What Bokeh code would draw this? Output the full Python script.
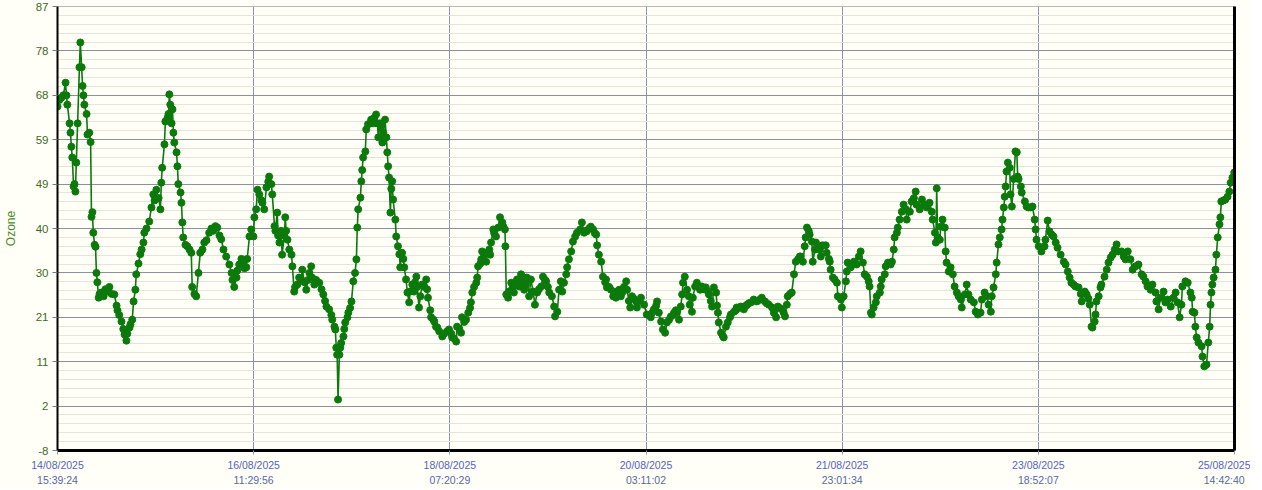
from bokeh.plotting import figure
from bokeh.models import Range1d, FixedTicker, CustomJSTickFormatter, LinearAxis
from bokeh.embed import file_html
from bokeh.resources import INLINE
import numpy as np

# ---------------- data ----------------
# time axis: hours since 14/08/2025 15:39:24 ; last tick 25/08/2025 14:42:40
x_labels = ["14/08/2025\n15:39:24", "16/08/2025\n11:29:56", "18/08/2025\n07:20:29",
            "20/08/2025\n03:11:02", "21/08/2025\n23:01:34", "23/08/2025\n18:52:07",
            "25/08/2025\n14:42:40"]
span_hours = 263.0544
y_labels = ["-8", "2", "11", "21", "30", "40", "49", "59", "68", "78", "87"]
y_min, y_max = -8, 87
y_label_text = "Ozone"

hours = [
    0.0, 0.4, 0.9, 1.3, 1.8, 2.0, 2.2, 2.7, 2.9, 3.1,
    3.3, 3.6, 3.8, 4.0, 4.2, 4.5, 4.9, 5.1, 5.4, 5.6,
    5.8, 6.0, 6.5, 6.7, 7.1, 7.4, 7.6, 7.8, 8.0, 8.3,
    8.5, 8.7, 8.9, 9.2, 9.4, 9.8, 10.3, 10.7, 11.2, 11.6,
    12.1, 12.7, 13.2, 13.4, 13.8, 14.3, 14.7, 15.0, 15.4, 15.6,
    16.1, 16.3, 16.7, 17.0, 17.4, 17.6, 18.1, 18.5, 18.8, 19.2,
    19.4, 19.9, 20.5, 21.0, 21.4, 21.7, 22.1, 22.6, 23.0, 23.2,
    23.4, 23.9, 24.1, 24.6, 24.8, 25.0, 25.2, 25.5, 25.7, 25.9,
    26.1, 26.6, 26.8, 27.0, 27.5, 27.7, 27.9, 28.1, 28.6, 29.0,
    29.5, 29.9, 30.1, 30.6, 31.0, 31.5, 31.9, 32.4, 32.8, 33.3,
    33.9, 34.4, 34.8, 35.3, 35.7, 36.2, 36.6, 37.1, 37.7, 38.4,
    38.9, 39.1, 39.5, 40.0, 40.2, 40.6, 41.1, 41.3, 41.8, 42.2,
    42.4, 42.9, 43.3, 43.8,
    44.0, 44.4, 44.7, 45.1, 45.6, 45.8, 46.2, 46.7, 47.1, 47.3,
    47.8, 48.0, 48.5, 48.7, 49.1, 49.3, 49.6, 50.0, 50.2, 50.7,
    50.9, 51.1, 51.4, 51.8, 52.3, 52.5, 52.9, 53.1, 53.6, 54.0,
    54.5, 54.7, 55.2, 55.6, 56.0, 56.3, 56.7, 56.9, 57.4, 57.8,
    58.5, 59.0, 59.4, 59.8, 60.1, 60.7, 61.2, 61.4, 61.9, 62.1,
    62.3, 62.5, 62.7, 63.0, 63.2, 63.4, 63.9, 64.1, 64.3, 64.8,
    65.0, 65.4, 65.7, 66.1, 66.5, 66.8, 67.0, 67.2, 67.7, 67.9,
    68.1, 68.3, 68.8, 69.0, 69.4, 69.9, 70.1, 70.6, 70.8, 71.2,
    71.5, 71.7, 72.1, 72.3, 72.6, 72.8, 73.2, 73.5, 73.7, 73.9,
    74.1, 74.4, 74.6, 74.8, 75.0, 75.5, 75.7, 76.1, 76.4, 76.6,
    76.8, 77.0, 77.3, 77.5, 77.9, 78.2, 78.6, 78.8, 79.3, 79.7,
    79.9, 80.2, 80.4, 80.8, 81.1, 81.5, 82.0, 82.4, 82.6, 82.8,
    83.3, 83.5, 84.0, 84.2, 84.6, 84.9, 85.3, 86.0, 86.4, 87.1,
    87.5, 88.0, 88.2, 88.6, 89.1, 89.3, 89.8, 90.2, 90.4, 90.9,
    91.3, 91.8, 92.2, 92.4, 92.7, 93.1, 93.6, 93.8, 94.0, 94.5,
    94.7, 94.9, 95.3, 95.8, 96.0, 96.5, 96.7, 96.9, 97.4, 97.6,
    98.0, 98.5, 98.9, 99.4, 99.6, 100.0, 100.1, 100.3, 100.7, 100.9,
    101.4, 101.6, 102.0, 102.5, 102.7, 103.2, 103.6, 104.1, 104.3, 104.7,
    104.9, 105.4, 105.8, 106.3, 106.7, 107.2, 107.6, 108.1, 108.5, 109.0,
    109.2, 109.6, 109.9, 110.5, 111.0, 111.2, 111.7, 112.1, 112.5, 112.8,
    113.2, 113.7, 113.9, 114.3, 114.8, 115.2, 115.7, 116.1, 116.8, 117.2,
    117.7, 118.1, 118.3, 118.8, 119.2, 119.7, 120.1, 120.4, 120.6, 121.0,
    121.5, 121.9, 122.4, 122.6, 122.8, 123.3, 123.7, 124.2, 124.4, 124.8,
    125.0, 125.5, 125.9, 126.2, 126.6, 127.1, 127.3, 127.7, 128.0, 128.4,
    128.8, 129.3, 129.5, 130.0, 130.4, 131.1, 131.7,
    132.2, 132.6, 132.9, 133.3, 133.8, 134.0, 134.4, 134.9, 135.3, 135.8,
    136.2, 136.7, 137.1, 137.6, 137.8, 138.2, 138.4, 138.9, 139.3, 139.6,
    139.8, 140.2, 140.7, 141.1, 141.3, 141.8, 142.0, 142.5, 142.9, 143.4,
    143.6, 144.0, 144.5, 144.9, 145.4, 145.6, 146.0, 146.3, 146.7, 147.2,
    147.4, 147.6, 147.8, 148.3, 148.7, 148.9, 149.4, 149.8, 150.3, 150.5,
    151.2, 151.6, 151.8, 152.3, 152.7, 153.4, 153.9, 154.1, 154.5, 155.0,
    155.6, 156.3, 156.8, 157.4, 158.1, 158.5, 159.0, 159.7, 160.1, 160.6,
    161.0, 161.4, 161.9, 162.3, 162.6, 163.0, 163.2, 163.7, 164.1, 164.6,
    165.0, 165.5, 165.9, 166.1, 166.6, 167.0, 167.2, 167.5, 167.9, 168.1,
    168.6, 168.8, 169.3, 169.5, 169.9, 170.4, 170.6, 171.0, 171.7, 171.9,
    172.4, 172.6, 172.8, 173.3, 173.7, 174.2, 174.4, 175.1, 175.3, 175.7,
    176.2, 176.4, 176.6, 177.3, 178.0, 178.6, 179.1, 179.5, 180.0, 180.4,
    180.9, 181.3, 181.5, 181.8, 182.0, 182.4, 182.9, 183.1, 183.8, 184.0,
    184.2, 184.9, 185.1, 185.6, 186.2, 186.5, 186.9, 187.1, 187.6, 187.8,
    188.2, 188.7, 189.1, 189.6, 189.8, 190.5, 190.9, 191.4, 191.8, 192.0,
    192.7, 193.2, 193.8, 194.3, 194.9, 195.4, 195.6, 196.1, 196.3, 196.5,
    196.7, 197.2, 197.4, 197.8, 198.3, 198.5, 198.7, 199.2, 199.6, 200.1,
    200.5, 201.0, 201.4, 201.9, 202.1, 202.8, 203.2, 203.6, 204.1, 204.8,
    205.2, 205.7, 206.3, 206.6, 207.2, 207.7, 208.1, 208.6, 208.8, 209.2,
    209.7, 209.9, 210.3, 210.6, 211.0, 211.2, 211.5, 211.7, 211.9, 212.1,
    212.4, 212.8, 213.0, 213.3, 213.7, 214.1, 214.4, 214.6, 214.8, 215.3,
    215.5, 216.2, 216.6, 217.0, 217.5, 217.9, 218.4, 218.6, 218.8,
    219.3, 219.9, 220.6, 220.8, 221.3, 221.7, 222.2, 222.6, 223.1, 223.5,
    224.2, 224.9, 225.3, 225.8, 226.2, 226.6, 227.1, 227.5, 228.2, 228.7,
    228.9, 229.6, 230.0, 230.4, 230.7, 231.1, 231.3, 231.8, 232.0, 232.2,
    232.7, 233.1, 233.3, 234.0, 234.5, 234.9, 235.4, 235.8, 236.3, 236.7,
    237.1, 237.8, 238.3, 238.7, 239.2, 239.8, 240.3, 240.9, 241.6, 242.3,
    242.7, 243.2, 243.6, 244.3, 244.7, 245.4, 245.6, 246.1, 246.5, 247.2,
    247.6, 248.1, 248.8, 249.4, 249.9, 250.3, 250.8, 251.2, 251.4, 252.1,
    252.6, 253.2, 253.5, 253.7, 254.1, 254.3, 254.6, 255.0, 255.7, 255.9,
    256.3, 256.8, 257.2, 257.5, 257.7, 257.9, 258.1, 258.4, 258.8, 259.0,
    259.3, 259.7, 259.9, 260.1, 260.6, 261.0, 261.5, 261.9, 262.2, 262.6, 263.0,
]

ozone = [
    65.6, 67, 67.5, 68, 70.7, 68, 66, 62, 60, 57,
    54.7, 48.5, 49, 47.4, 53.6, 62, 74, 79.3, 74, 70,
    68, 66, 64, 59.6, 60, 58, 42, 43, 38.6, 36,
    35.6, 30, 28, 24.7, 25.5, 25.8, 25, 26.5, 26, 27,
    25.5, 25.4, 23, 22, 21, 19.6, 18, 16.8, 15.5, 17,
    18.3, 19, 20, 23.9, 26.4, 29.7, 32, 34, 35, 36.5,
    38.6, 39.5, 41, 44, 46.8, 45.5, 47.8, 46, 43.6, 49.3,
    52.5, 57.5, 62.4, 63.2, 64, 68.2, 66, 62, 65, 60,
    57.9, 55.8, 52.8, 49, 47.2, 45, 40.8, 37.6, 36, 35.7,
    35, 34.3, 27, 25.5, 25, 30, 34.3, 35, 36.5, 37,
    38.6, 39.5, 39, 40, 39.7, 38, 37.2, 35, 33.5, 31.8,
    30, 28.5, 27, 29, 30.5, 31.8, 33, 32.2, 31, 31.2,
    33, 37.8, 39.3, 37.8,
    41.9, 43.6, 47.8, 46.8, 45.5, 45, 43.6, 48.3, 49.5, 50.6,
    49, 46.8, 40, 39, 42.9, 38, 36.5, 39, 33.9, 38,
    41.9, 39, 37.1, 35, 33.9, 31.4, 26, 27, 27.5, 29,
    28.5, 30.7, 28, 26.4, 28.5, 30, 31.4, 29, 27.5, 28.5,
    27.9, 26.5, 25.4, 24, 22.8, 22.2, 21, 20, 18.5, 17.9,
    14, 12.5, 2.9, 12.5, 14, 15, 16.4, 18, 19.4, 20.5,
    21.5, 22.5, 23.9, 28.2, 30, 32.9, 39.7, 43.6, 46.1, 49.6,
    52, 54.7, 56, 60.7, 61.8, 62, 62.8, 62, 63.2, 63.9,
    62, 59, 62, 61.3, 57.9, 60, 62.8, 59, 55.8, 52.8,
    50.4, 42.9, 48, 49.6, 45.7, 41.4, 37.8, 35.7, 34, 31.2,
    34, 34.3, 33, 31.2, 28.6, 25.8, 23.7, 26, 27.5, 26,
    28, 29.2, 27, 22.6, 25, 27.5, 27, 28.6, 26.5, 24.7,
    22, 20.5, 20, 19.6, 18.5, 18.3, 17.5, 16.4, 17, 17.5,
    17.9, 17, 16.2, 16, 15.3, 18.5, 18, 17.2, 20.5, 19.5,
    20, 21.5, 22.5, 23.7, 25.8, 27, 27.9, 29, 31.4, 32,
    32.9, 34.6, 34, 32.4, 34.3, 35, 33.9, 36.5, 39.3, 38.5,
    37.8, 39.7, 41.9, 40.8, 40, 39.3, 35.7, 25.4, 24.7, 26,
    27.9, 26.5, 25.8, 27.5, 28.6, 27.1, 29.7, 28, 26.4, 27.5,
    29, 25, 28.6, 26, 23.2, 25.8, 26.5, 27.1, 29.2, 28.5,
    28.2, 27, 25.8, 25, 22.8, 20.7, 21.7, 26.4, 28.2, 26,
    27.9, 29.7, 31.2, 32.9, 34.6, 36.7, 37.8, 38.6, 39.3, 40.8,
    38.6, 39, 38.9, 39.5, 39.9, 39.3, 38.5, 38.2, 35.9, 33.9,
    32.4, 29.2, 28, 28.6, 26.9, 27, 26.4, 25, 25.8, 24.7,
    26, 26.4, 25, 25.8, 27, 28.2, 26.4, 24, 22.6, 25,
    24.5, 23.9, 22.6, 24, 24.7, 23.2, 21.1,
    21, 20.5, 21.5, 22.2, 23, 23.9, 21.5, 19.6, 17.9, 17.2,
    19.4, 20, 20.7, 21, 21.5, 22, 21.7, 20, 22.8, 25.4,
    27.9, 29.2, 26.4, 25, 23.2, 21.7, 24.7, 27.1, 27.9, 27,
    26.4, 27.1, 26.5, 26.9, 26, 25.4, 24, 22.8, 26.9, 25.8,
    23, 21.5, 19.4, 17.2, 16.5, 16.2, 18.5, 19.4, 20.5, 21.1,
    21.7, 22, 22.6, 22.5, 22.8, 22.2, 23, 23.2, 23.5, 23.7,
    24.3, 23.9, 24.2, 24.7, 23.9, 23.5, 23.2, 22.6, 21.5, 20.5,
    22.8, 22.5, 22.2, 21.5, 20.7, 23.2, 25, 25.5, 25.8, 29.7,
    32.4, 32.9, 33.5, 33.5, 32.4, 35.7, 37.6, 39.7, 39, 38.2,
    36.7, 32.4, 35, 36.5, 35.7, 35, 33.5, 35.9, 35.9, 34.3,
    33, 32.4, 30.7, 29, 28.6, 27.9, 25, 24.3, 22.6, 25,
    28.2, 30.3, 32.2, 31.2, 32.4, 31.8, 33.5, 34.6, 32.2, 29.7,
    29.2, 28.2, 27.1, 21.5, 21.1, 22.6, 23.7, 25, 25.8, 27.1,
    28.6, 29.7, 31.4, 32.2, 31.8, 32.4, 35, 37.6, 38.6, 39.7,
    41.4, 43.1, 44.6, 43.6, 41.4, 43.1, 45.3, 46, 47.4, 44.6,
    43.6, 45.7, 44.6, 44, 45, 43.1, 41.4, 38.6, 36.5, 48.1,
    37.6, 37.1, 39.9, 41.4, 39.7, 34.6, 32.2, 30.3, 31.2, 29.7,
    27.1, 25.8, 25, 24.3, 22.6, 25.4, 27.5, 25.4, 24.3, 23.7,
    21.7, 21.1, 21.5, 24.3, 25.8, 25, 23.2, 21.7, 25, 26.9,
    29.7, 32.2, 36.1, 37.6, 39.3, 41.4, 44, 46.3, 48.5, 51.7,
    53.6, 52.5, 46.8, 44.2, 50.1, 56, 55.8, 50.6, 50.1, 48.5,
    47.2, 45.3, 44.2, 44, 44, 44.2, 41.4, 39.3, 37.1,
    35.7, 34.6, 35.7, 37.1, 41.2, 38.9, 38.2, 37.8, 36.5, 35.4,
    33.9, 32.4, 31.8, 30.3, 29, 27.9, 27.5, 27.1, 26.9, 25.5,
    23.9, 26, 25.4, 24.5, 23.2, 18.5, 18.3, 19.6, 21.1, 23.9,
    25, 26.9, 27.5, 29.2, 30.7, 32.2, 33.3, 33.9, 35, 36.1,
    34.6, 34.6, 33.5, 32.9, 34.6, 32.9, 30.7, 31.4, 31.8, 29.7,
    29.2, 28.2, 27.1, 26.4, 27.5, 25.8, 23.9, 22.2, 24.7, 26,
    23.7, 24.3, 22.8, 24.7, 25.8, 23.7, 20.5, 23.2, 27.1, 28.2,
    27.9, 25.8, 24.7, 21.7, 21.5, 18.5, 16.2, 15.1, 14.3, 12.1,
    10, 10.4, 15.1, 18.5, 23.2, 25.8, 27.5, 29, 30.7, 33.9,
    37.6, 40.4, 41.9, 45.3, 45.5, 45.7, 46.3, 47.4, 49.3, 50.4, 51.5,
]
assert len(hours) == len(ozone)

# ---------------- styling ----------------
BG = "#fffff8"
GREEN = "#0b7a0b"
Y_LABEL_COLOR = "#3d6b1e"
X_LABEL_COLOR = "#5566b0"
MAJOR_GRID = "#8e9097"
V_GRID = "#8a94b6"
MINOR_GRID = "#e4e4da"
FONT = "Liberation Sans"

p = figure(width=1250, height=488, output_backend="svg", toolbar_location=None,
           x_range=Range1d(0, span_hours), y_range=Range1d(y_min, y_max),
           background_fill_color=BG, border_fill_color=BG,
           min_border_left=56, min_border_right=16, min_border_top=6, min_border_bottom=33)
p.outline_line_color = MAJOR_GRID
p.outline_line_width = 1

x_step = span_hours / (len(x_labels) - 1)
x_ticks = [i * x_step for i in range(len(x_labels))]
y_step = (y_max - y_min) / (len(y_labels) - 1)
y_ticks = [y_min + i * y_step for i in range(len(y_labels))]
y_minor = list(np.arange(y_min, y_max + 0.01, y_step / 5))

p.xaxis.ticker = FixedTicker(ticks=x_ticks)
p.xaxis.formatter = CustomJSTickFormatter(args=dict(labels=x_labels, step=x_step),
                                          code="return labels[Math.round(tick/step)];")
p.yaxis.ticker = FixedTicker(ticks=y_ticks, minor_ticks=y_minor)
p.yaxis.formatter = CustomJSTickFormatter(args=dict(labels=y_labels, lo=y_min, step=y_step),
                                          code="return labels[Math.round((tick-lo)/step)];")

# grids
p.ygrid.grid_line_color = MAJOR_GRID
p.ygrid.grid_line_width = 1
p.ygrid.minor_grid_line_color = MINOR_GRID
p.ygrid.minor_grid_line_width = 1
p.xgrid.grid_line_color = V_GRID
p.xgrid.grid_line_width = 1

# x axis
xa = p.xaxis[0]
xa.axis_line_color = "black"
xa.axis_line_width = 3
xa.major_tick_line_color = V_GRID
xa.major_tick_out = 4
xa.major_tick_in = 0
xa.minor_tick_line_color = None
xa.major_label_text_color = X_LABEL_COLOR
xa.major_label_text_font = FONT
xa.major_label_text_font_size = "10.5px"
xa.major_label_text_line_height = 1.25
xa.major_label_standoff = 4

# y axis
ya = p.yaxis[0]
ya.axis_line_color = "black"
ya.axis_line_width = 2
ya.major_tick_line_color = "#7a7a7a"
ya.major_tick_out = 5
ya.major_tick_in = 0
ya.minor_tick_line_color = None
ya.major_label_text_color = Y_LABEL_COLOR
ya.major_label_text_font = FONT
ya.major_label_text_font_size = "11.5px"
ya.major_label_standoff = 4
ya.axis_label = y_label_text
ya.axis_label_text_color = "#4a8a2a"
ya.axis_label_text_font = FONT
ya.axis_label_text_font_size = "12px"
ya.axis_label_text_font_style = "normal"
ya.axis_label_standoff = 15

# right border as a bare axis
ra = LinearAxis(ticker=FixedTicker(ticks=[]), axis_line_color="black", axis_line_width=3,
                major_tick_line_color=None, minor_tick_line_color=None,
                major_label_text_font_size="0px")
p.add_layout(ra, "right")

p.line(hours, ozone, line_color=GREEN, line_width=1.6)
p.scatter(hours, ozone, size=7, fill_color=GREEN, line_color=GREEN)

open("out.html", "w").write(file_html(p, INLINE))
